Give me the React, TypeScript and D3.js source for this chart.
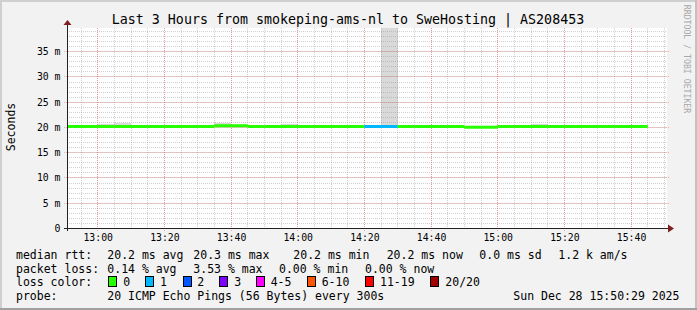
import React from "react";
import * as d3 from "d3";

// ---------------- data ----------------
const chartTitle = "Last 3 Hours from smokeping-ams-nl to SweHosting | AS208453";
const yAxisLabel = "Seconds";
const watermark = "RRDTOOL / TOBI OETIKER";

// 5-minute steps (start time of each step)
const stepTimes = [
  "12:50", "12:55", "13:00", "13:05", "13:10", "13:15", "13:20", "13:25", "13:30", "13:35",
  "13:40", "13:45", "13:50", "13:55", "14:00", "14:05", "14:10", "14:15", "14:20", "14:25",
  "14:30", "14:35", "14:40", "14:45", "14:50", "14:55", "15:00", "15:05", "15:10", "15:15",
  "15:20", "15:25", "15:30", "15:35", "15:40",
];
// median rtt in ms
const medianMs = [
  20.2, 20.2, 20.2, 20.2, 20.2, 20.2, 20.2, 20.2, 20.2, 20.35,
  20.35, 20.2, 20.2, 20.2, 20.2, 20.2, 20.2, 20.2, 20.2, 20.2,
  20.2, 20.2, 20.2, 20.2, 20.05, 20.05, 20.2, 20.2, 20.2, 20.2,
  20.2, 20.2, 20.2, 20.2, 20.2,
];
// smoke (spread of pings) low / high in ms
const smokeLowMs = [
  20.0, 20.0, 20.0, 20.0, 20.0, 20.0, 20.0, 20.0, 20.0, 20.1,
  20.1, 20.0, 20.0, 20.0, 20.0, 20.0, 20.0, 20.0, 20.0, 20.0,
  20.0, 20.0, 20.0, 20.0, 19.9, 19.9, 20.0, 20.0, 20.0, 20.0,
  20.0, 20.0, 20.0, 20.0, 20.0,
];
const smokeHighMs = [
  20.4, 20.4, 20.65, 20.9, 20.4, 20.4, 20.4, 20.4, 20.4, 20.8,
  20.5, 20.4, 20.4, 20.65, 20.4, 20.4, 20.4, 20.4, 20.4, 45.0,
  20.4, 20.4, 20.4, 20.4, 20.2, 20.2, 20.4, 20.4, 20.65, 20.4,
  20.4, 20.4, 20.4, 20.4, 20.4,
];
// lost pings out of 20 per step
const lostPings = [
  0, 0, 0, 0, 0, 0, 0, 0, 0, 0,
  0, 0, 0, 0, 0, 0, 0, 0, 1, 1,
  0, 0, 0, 0, 0, 0, 0, 0, 0, 0,
  0, 0, 0, 0, 0,
];

const yMaxMs = 39.6;
const yTickValues = [0, 5, 10, 15, 20, 25, 30, 35];
const xTickLabels = ["13:00", "13:20", "13:40", "14:00", "14:20", "14:40", "15:00", "15:20", "15:40"];

const lossLabels = ["0", "1", "2", "3", "4-5", "6-10", "11-19", "20/20"];
const lossColors = ["#26ff00", "#00b8ff", "#0059ff", "#7e00ff", "#ff00ff", "#ff5500", "#ff0000", "#a10000"];
const lossThresholds = [0, 1, 2, 3, 5, 10, 19, 20];

const rttLegend = ["median rtt:", "20.2 ms avg", "20.3 ms max", "20.2 ms min", "20.2 ms now", "0.0 ms sd", "1.2 k am/s"];
const lossLegend = ["packet loss:", "0.14 % avg", "3.53 % max", "0.00 % min", "0.00 % now"];
const colorLegendTitle = "loss color:";
const probeLegend = ["probe:", "20 ICMP Echo Pings (56 Bytes) every 300s"];
const timestampText = "Sun Dec 28 15:50:29 2025";

// ---------------- layout ----------------
const W = 697;
const H = 310;
const PL = 67, PR = 667, PT = 28, PB = 228;
const MONO = "'DejaVu Sans Mono', 'Liberation Mono', monospace";
const rttX = [16, 107.3, 193.3, 293.3, 386.7, 479.3, 558.3];
const lossX = [16, 107.3, 193.3, 279, 365];
const boxX = [108.3, 145, 182.7, 219.3, 256, 306.7, 365, 430];
const boxLabelX = [123.3, 160, 197.3, 234.3, 270.7, 321.7, 380, 445.3];
const rowY = [254.5, 268.5, 282, 296];

const toDate = (hm: string) => {
  const [h, m] = hm.split(":").map(Number);
  return new Date(2025, 11, 28, h, m, 0);
};

const lossColor = (n: number) => {
  for (let i = 0; i < lossThresholds.length; i++) if (n <= lossThresholds[i]) return lossColors[i];
  return lossColors[lossColors.length - 1];
};

export default function App() {
  const tStart = new Date(2025, 11, 28, 12, 50, 29);
  const tEnd = new Date(2025, 11, 28, 15, 50, 29);
  const x = d3.scaleTime().domain([tStart, tEnd]).range([66, 666]);
  const y = d3.scaleLinear().domain([0, yMaxMs]).range([228.5, 28.5]);
  const px = (v: number) => Math.floor(v) + 0.5;

  const minorX = d3.timeMinute.every(5)!.range(tStart, tEnd).map((d) => x(d));
  const majorX = xTickLabels.map((t) => x(toDate(t)));
  const minorY = d3.range(1, Math.floor(yMaxMs) + 1).map((v) => y(v));
  const majorY = yTickValues.map((v) => y(v));

  const steps = stepTimes.map((t, i) => {
    const t0 = toDate(t);
    const t1 = d3.timeMinute.offset(t0, 5);
    return { t0, t1, med: medianMs[i], lo: smokeLowMs[i], hi: smokeHighMs[i], loss: lostPings[i] };
  });

  const seg = d3
    .line<[Date, number]>()
    .x((d) => Math.max(PL, x(d[0])))
    .y((d) => y(d[1]));

  const gridMinor = "rgba(143,143,143,0.42)";
  const gridMajor = "rgba(235,90,90,0.45)";

  return (
    <svg
      width={W}
      height={H}
      viewBox={`0 0 ${W} ${H}`}
      style={{ position: "absolute", left: 0, top: 0, display: "block" }}
      shapeRendering="crispEdges"
    >
      <defs>
        <clipPath id="plotClip">
          <rect x={PL} y={PT} width={PR - PL} height={PB - PT} />
        </clipPath>
      </defs>
      {/* background and frame */}
      <rect x={0} y={0} width={W} height={H} fill="#f2f2f2" />
      <rect x={0} y={0} width={W} height={2} fill="#cfcfcf" />
      <rect x={0} y={0} width={2} height={H} fill="#cfcfcf" />
      <rect x={W - 2} y={0} width={2} height={H} fill="#c2c2c2" />
      <rect x={0} y={H - 2} width={W} height={2} fill="#a0a0a0" />

      {/* canvas */}
      <rect x={PL} y={PT} width={PR - PL} height={PB - PT} fill="#ffffff" />

      {/* smoke */}
      <g clipPath="url(#plotClip)">
        {steps.map((s, i) => {
          const x0 = Math.max(PL, x(s.t0));
          const x1 = x(s.t1);
          const yTop = y(s.hi);
          const yBot = y(s.lo);
          return <rect key={i} x={x0} y={yTop} width={x1 - x0} height={yBot - yTop} fill="#d9d9d9" />;
        })}
      </g>

      {/* grid */}
      <g fill="none" strokeWidth={1} strokeDasharray="1,1">
        {minorX.map((v, i) => (
          <line key={"vx" + i} x1={px(v)} x2={px(v)} y1={PT} y2={PB} stroke={gridMinor} />
        ))}
        {minorY.map((v, i) => (
          <line key={"hy" + i} x1={PL} x2={PR} y1={px(v)} y2={px(v)} stroke={gridMinor} />
        ))}
        {majorX.map((v, i) => (
          <line key={"mx" + i} x1={px(v)} x2={px(v)} y1={PT} y2={PB + 3} stroke={gridMajor} />
        ))}
        {majorY.slice(1).map((v, i) => (
          <line key={"my" + i} x1={PL - 3} x2={PR + 2} y1={px(v)} y2={px(v)} stroke={gridMajor} />
        ))}
      </g>

      {/* median line coloured by loss */}
      <g fill="none" strokeWidth={3} shapeRendering="auto">
        {steps.map((s, i) => (
          <path
            key={i}
            d={seg([[s.t0, s.med], [s.t1, s.med]]) || ""}
            stroke={lossColor(s.loss)}
            strokeLinecap="butt"
          />
        ))}
      </g>

      {/* axes */}
      <line x1={PL - 3} x2={PR + 4} y1={PB + 0.5} y2={PB + 0.5} stroke="#222" />
      <line x1={PL + 0.5} x2={PL + 0.5} y1={PB + 3} y2={PT - 4} stroke="#222" />
      <path d={`M${PR + 1},${PB - 3.5} L${PR + 7},${PB + 0.5} L${PR + 1},${PB + 4.5} Z`} fill="#7f1f1f" shapeRendering="auto" />
      <path d={`M${PL - 3.5},${PT - 3} L${PL + 0.5},${PT - 8} L${PL + 4.5},${PT - 3} Z`} fill="#7f1f1f" shapeRendering="auto" />

      {/* y tick labels */}
      <g fontFamily={MONO} fontSize={9.8} fill="#000" textAnchor="end">
        {yTickValues.map((v, i) => (
          <text key={i} x={60.5} y={y(v)} dominantBaseline="central">
            {v === 0 ? "0" : `${v} m`}
          </text>
        ))}
      </g>
      {/* x tick labels */}
      <g fontFamily={MONO} fontSize={9.8} fill="#000" textAnchor="middle">
        {xTickLabels.map((t, i) => (
          <text key={i} x={x(toDate(t)) + 0.5} y={237.5} dominantBaseline="central">
            {t}
          </text>
        ))}
      </g>

      {/* title */}
      <text x={348} y={19} fontFamily={MONO} fontSize={13.3} textAnchor="middle" dominantBaseline="central" fill="#000">
        {chartTitle}
      </text>

      {/* y axis label */}
      <text
        transform="translate(11,127) rotate(-90)"
        fontFamily={MONO}
        fontSize={11.5}
        textAnchor="middle"
        dominantBaseline="central"
        fill="#000"
      >
        {yAxisLabel}
      </text>

      {/* watermark */}
      <text
        transform="translate(686.5,59) rotate(90)"
        fontFamily={MONO}
        fontSize={8.2}
        textAnchor="middle"
        dominantBaseline="central"
        fill="#a8a8a8"
      >
        {watermark}
      </text>

      {/* legend */}
      <g fontFamily={MONO} fontSize={11.5} fill="#000" dominantBaseline="central" style={{ whiteSpace: "pre" }}>
        {rttLegend.map((s, i) => (
          <text key={"r" + i} x={rttX[i]} y={rowY[0]}>
            {s}
          </text>
        ))}
        {lossLegend.map((s, i) => (
          <text key={"l" + i} x={lossX[i]} y={rowY[1]}>
            {s}
          </text>
        ))}
        <text x={16} y={rowY[2]}>
          {colorLegendTitle}
        </text>
        {lossLabels.map((s, i) => (
          <g key={"c" + i}>
            <rect x={Math.round(boxX[i]) + 0.5} y={276.5} width={8} height={10} fill={lossColors[i]} stroke="#000" />
            <text x={boxLabelX[i]} y={rowY[2]}>
              {s}
            </text>
          </g>
        ))}
        <text x={16} y={rowY[3]}>
          {probeLegend[0]}
        </text>
        <text x={107.3} y={rowY[3]}>
          {probeLegend[1]}
        </text>
        <text x={513.3} y={rowY[3]}>
          {timestampText}
        </text>
      </g>
    </svg>
  );
}
